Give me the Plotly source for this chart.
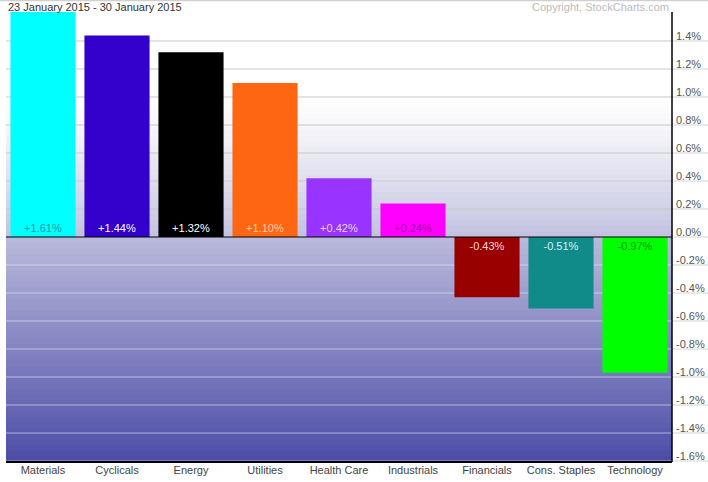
import plotly.graph_objects as go

categories = ["Materials", "Cyclicals", "Energy", "Utilities", "Health Care",
              "Industrials", "Financials", "Cons. Staples", "Technology"]
values = [1.61, 1.44, 1.32, 1.10, 0.42, 0.24, -0.43, -0.51, -0.97]
bar_colors = ["#00ffff", "#3300cc", "#000000", "#ff6611", "#9933ff",
              "#ff00ff", "#990000", "#118a8a", "#00ff00"]
label_colors = ["#2a9a9a", "#ffffff", "#ffffff", "#ffd0a8", "#e6d6ff",
                "#a800a8", "#ffd6d6", "#d6f2f2", "#009a00"]
tick_vals = [1.4, 1.2, 1.0, 0.8, 0.6, 0.4, 0.2, 0.0, -0.2, -0.4, -0.6, -0.8,
             -1.0, -1.2, -1.4, -1.6]
tick_text = ["%.1f%%" % v if abs(v) > 1e-9 else "0.0%" for v in tick_vals]
YMAX = 1.607

fig = go.Figure()
fig.add_trace(go.Bar(
    x=categories, y=values,
    marker=dict(color=bar_colors, line=dict(width=0)),
    text=["%+.2f%%" % v for v in values],
    textposition="inside", insidetextanchor="start",
    textangle=0, constraintext="none",
    textfont=dict(family="Arial, Liberation Sans, sans-serif", size=11, color=label_colors),
    hoverinfo="skip",
))

def lerp(c1, c2, t):
    return "rgb(%d,%d,%d)" % tuple(round(a + (b - a) * t) for a, b in zip(c1, c2))

shapes = []
N = 40
step = YMAX / N
for i in range(N - 1, -1, -1):
    y0 = step * i
    y1 = step * (i + 1)
    t = (y0 + y1) / 2 / YMAX
    s = max(0.0, min(1.0, (0.62 - t) / 0.62))
    col = lerp((255, 255, 255), (194, 194, 224), s ** 1.2)
    shapes.append(dict(type="rect", xref="paper", yref="y", x0=0, x1=1,
                       y0=max(0.0, y0 - step * 0.6), y1=y1,
                       fillcolor=col, line=dict(width=0), layer="below"))
for i in range(N):
    ytop = -step * i
    ybot = -step * (i + 1)
    t = (i + 0.5) / N
    col = lerp((186, 186, 220), (76, 76, 166), t)
    shapes.append(dict(type="rect", xref="paper", yref="y", x0=0, x1=1,
                       y0=max(-YMAX, ybot - step * 0.6), y1=ytop,
                       fillcolor=col, line=dict(width=0), layer="below"))
for v in tick_vals:
    if abs(v) < 1e-9:
        continue
    if v > 0:
        shapes.append(dict(type="line", xref="paper", yref="y", x0=0, x1=1, y0=v, y1=v,
                           line=dict(color="#c8c8c8", width=1), layer="between"))
    else:
        shapes.append(dict(type="line", xref="paper", yref="y", x0=0, x1=1, y0=v, y1=v,
                           line=dict(color="rgba(235,235,248,0.6)", width=1), layer="between"))
    shapes.append(dict(type="line", xref="paper", yref="y", x0=1, x1=1.06, y0=v, y1=v,
                       line=dict(color="#d4d4d4", width=1), layer="between"))
shapes.append(dict(type="line", xref="paper", yref="y", x0=1, x1=1.06, y0=0, y1=0,
                   line=dict(color="#d4d4d4", width=1), layer="between"))
shapes.append(dict(type="line", xref="paper", yref="y", x0=0, x1=1, y0=0, y1=0,
                   line=dict(color="#000000", width=1.2), layer="above"))
shapes.append(dict(type="line", xref="paper", yref="paper", x0=1, x1=1, y0=0, y1=1,
                   line=dict(color="#000000", width=1.5), layer="above"))
shapes.append(dict(type="line", xref="paper", yref="paper", x0=0, x1=1, y0=0, y1=0,
                   line=dict(color="#000000", width=2), layer="above"))
shapes.append(dict(type="line", xref="paper", yref="paper", x0=-0.02, x1=1.06, y0=1.0255, y1=1.0255,
                   line=dict(color="#d0d0d0", width=1.5), layer="above"))

annotations = [
    dict(text="23 January 2015 - 30 January 2015", xref="paper", yref="paper",
         x=0, y=1.028, xanchor="left", yanchor="top", showarrow=False,
         font=dict(size=11, color="#333")),
    dict(text="Copyright, StockCharts.com", xref="paper", yref="paper",
         x=0.998, y=1.028, xanchor="right", yanchor="top", showarrow=False,
         font=dict(size=11, color="#bbbbbb")),
]
for v, txt in zip(tick_vals, tick_text):
    annotations.append(dict(text=txt, xref="paper", yref="y", x=1, y=v,
                            xanchor="left", yanchor="middle", xshift=2, yshift=5,
                            showarrow=False, font=dict(size=11, color="#555")))

fig.update_layout(
    width=708, height=482,
    margin=dict(l=6, r=36, t=12, b=20),
    paper_bgcolor="white", plot_bgcolor="white",
    showlegend=False, bargap=0.12,
    font=dict(family="Arial, Liberation Sans, sans-serif", size=11, color="#333"),
    shapes=shapes,
    xaxis=dict(showgrid=False, showline=False, ticks="", zeroline=False,
               tickfont=dict(size=11, color="#444"), fixedrange=True),
    yaxis=dict(side="right", range=[-YMAX, YMAX], showticklabels=False,
               showgrid=False, zeroline=False, showline=False, ticks="",
               fixedrange=True),
    annotations=annotations,
)

fig.write_html("out.html")
